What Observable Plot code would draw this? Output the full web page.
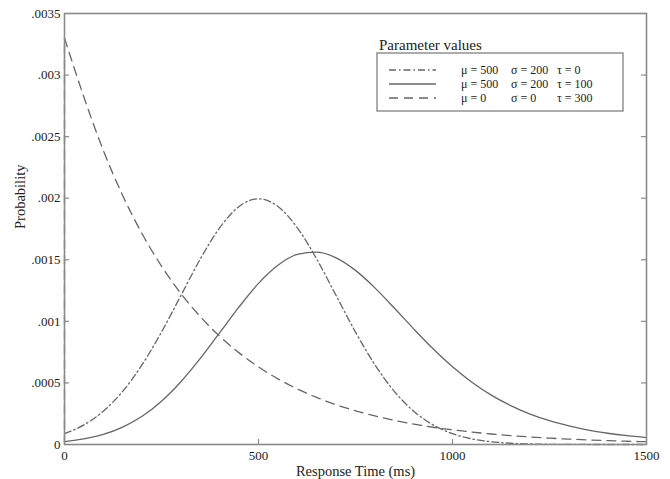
<!DOCTYPE html>
<html>
<head>
<meta charset="utf-8">
<script src="https://cdn.jsdelivr.net/npm/d3@7"></script>
<script src="https://cdn.jsdelivr.net/npm/@observablehq/plot@0.6"></script>
<style>
  html, body { margin: 0; padding: 0; background: #fff; }
  #wrap { position: relative; width: 670px; height: 479px; font-family: "Liberation Serif", "Times New Roman", serif; color: #222; }
  #legend { position: absolute; left: 0; top: 0; }
</style>
</head>
<body>
<div id="wrap"></div>
<script>
// Response time (ms) sample positions
const ms = [0,50,100,150,200,250,300,350,400,450,500,550,600,650,700,750,800,850,900,950,1000,1050,1100,1150,1200,1250,1300,1350,1400,1450,1500];
// Dash-dot curve (mu=500, sigma=200, tau=0)
const normalY = [0.0000876,0.000159,0.000270,0.000432,0.000648,0.000913,0.001210,0.001506,0.001760,0.001933,0.001995,0.001933,0.001760,0.001506,0.001210,0.000913,0.000648,0.000432,0.000270,0.000159,0.0000876,0.0000455,0.0000222,0.0000101,0.0000044,0.0000018,0.0000007,0.0000002,0,0,0];
// Solid curve (mu=500, sigma=200, tau=100)
const exGaussY = [0.0000234,0.0000451,0.0000822,0.000141,0.000229,0.000352,0.000510,0.000699,0.000908,0.001118,0.001308,0.001455,0.001543,0.001563,0.001516,0.001414,0.001272,0.001108,0.000939,0.000777,0.000631,0.000506,0.000401,0.000316,0.000247,0.000193,0.000151,0.000117,0.0000915,0.0000713,0.0000555];
// Dashed curve (mu=0, sigma=0, tau=300)
const expY = [0.00330,0.002822,0.002388,0.002022,0.001711,0.001449,0.001226,0.001038,0.000879,0.000744,0.000630,0.000533,0.000451,0.000382,0.000323,0.000274,0.000232,0.000196,0.000166,0.000140,0.000119,0.000101,0.0000853,0.0000721,0.0000611,0.0000517,0.0000437,0.0000370,0.0000313,0.0000265,0.0000225];

const xTicks = [0, 500, 1000, 1500];
const xTickLabels = ["0", "500", "1000", "1500"];
const yTicks = [0, 0.0005, 0.001, 0.0015, 0.002, 0.0025, 0.003, 0.0035];
const yTickLabels = ["0", ".0005", ".001", ".0015", ".002", ".0025", ".003", ".0035"];

const legendTitle = "Parameter values";
const legendMu = ["μ = 500", "μ = 500", "μ = 0"];
const legendSigma = ["σ = 200", "σ = 200", "σ = 0"];
const legendTau = ["τ = 0", "τ = 100", "τ = 300"];
const dashes = ["7,3,1.5,3", null, "9,6"];

const W = 670, H = 479;
const mL = 64, mR = 24, mT = 13, mB = 35;
const plotW = W - mL - mR, plotH = H - mT - mB;
const curveColor = "#666";
const frameColor = "#8a8a8a";

const toRows = ys => ms.map((x, i) => ({x, y: ys[i]}));

const chart = Plot.plot({
  width: W, height: H,
  marginLeft: mL, marginRight: mR, marginTop: mT, marginBottom: mB,
  style: {fontFamily: "'Liberation Serif', 'Times New Roman', serif", fontSize: "13px", color: "#222", background: "#fff"},
  x: {domain: [0, 1500]},
  y: {domain: [0, 0.0035]},
  marks: [
    Plot.line(toRows(normalY), {x: "x", y: "y", curve: "monotone-x", stroke: curveColor, strokeWidth: 1.3, strokeDasharray: dashes[0]}),
    Plot.line(toRows(exGaussY), {x: "x", y: "y", curve: "monotone-x", stroke: curveColor, strokeWidth: 1.3}),
    Plot.line(toRows(expY), {x: "x", y: "y", curve: "monotone-x", stroke: curveColor, strokeWidth: 1.3, strokeDasharray: dashes[2]}),
    Plot.ruleX([{x: ms[0], y: expY[0]}], {x: "x", y1: 0, y2: "y", stroke: curveColor, strokeWidth: 1.3, strokeDasharray: dashes[2]}),
    Plot.frame({stroke: frameColor, strokeWidth: 1.6}),
    Plot.tickY(yTicks.slice(1, -1), {y: d => d, insetRight: plotW - 5, stroke: frameColor, strokeWidth: 1.2}),
    Plot.tickY(yTicks.slice(1, -1), {y: d => d, insetLeft: plotW - 5, stroke: frameColor, strokeWidth: 1.2}),
    Plot.tickX(xTicks.slice(1, -1), {x: d => d, insetTop: plotH - 5, stroke: frameColor, strokeWidth: 1.2}),
    Plot.axisY(yTicks, {tickSize: 0, tickPadding: 4, label: null, tickFormat: d => yTickLabels[yTicks.indexOf(d)]}),
    Plot.axisX(xTicks, {tickSize: 0, tickPadding: 6, label: null, tickFormat: d => xTickLabels[xTicks.indexOf(d)]}),
    Plot.text(["Response Time (ms)"], {frameAnchor: "bottom", dy: 27, lineAnchor: "middle", fontSize: 14.5, fill: "#222"}),
    Plot.text(["Probability"], {frameAnchor: "left", dx: -44, rotate: -90, lineAnchor: "middle", fontSize: 14.5, fill: "#222"})
  ]
});

const wrap = document.getElementById("wrap");
wrap.appendChild(chart);

// Legend overlay
const ns = "http://www.w3.org/2000/svg";
const lg = document.createElementNS(ns, "svg");
lg.setAttribute("id", "legend");
lg.setAttribute("width", W);
lg.setAttribute("height", H);
lg.setAttribute("font-family", "'Liberation Serif', 'Times New Roman', serif");
function el(tag, attrs, text) {
  const e = document.createElementNS(ns, tag);
  for (const k in attrs) if (attrs[k] != null) e.setAttribute(k, attrs[k]);
  if (text != null) e.textContent = text;
  lg.appendChild(e);
  return e;
}
el("text", {x: 379, y: 44.5, "dominant-baseline": "central", "font-size": 15, fill: "#222"}, legendTitle);
el("rect", {x: 377, y: 53, width: 246, height: 58, fill: "#fff", stroke: "#808080", "stroke-width": 1.3});
const rowY = [70, 84, 98];
rowY.forEach((y, i) => {
  el("line", {x1: 389, x2: 436, y1: y, y2: y, stroke: curveColor, "stroke-width": 1.3, "stroke-dasharray": dashes[i]});
  el("text", {x: 461, y, "dominant-baseline": "central", "font-size": 12, fill: "#222"}, legendMu[i]);
  el("text", {x: 511, y, "dominant-baseline": "central", "font-size": 12, fill: "#222"}, legendSigma[i]);
  el("text", {x: 557, y, "dominant-baseline": "central", "font-size": 12, fill: "#222"}, legendTau[i]);
});
wrap.appendChild(lg);
</script>
</body>
</html>
